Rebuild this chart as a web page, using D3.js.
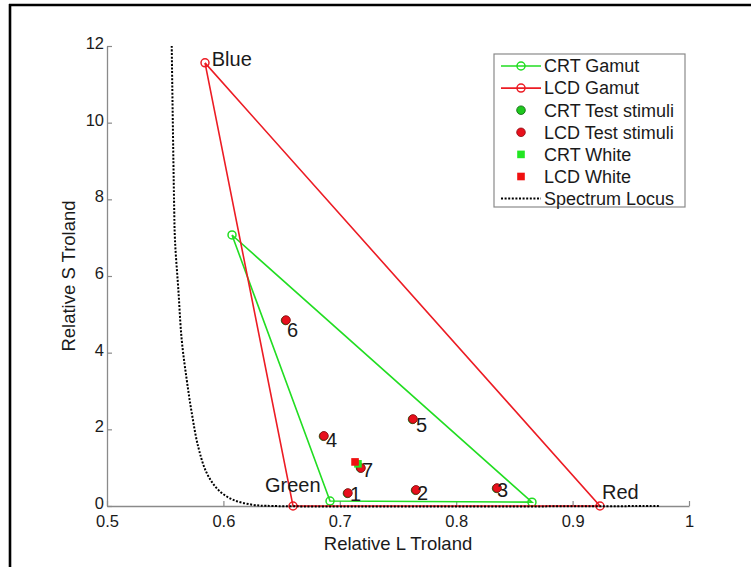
<!DOCTYPE html>
<html><head><meta charset="utf-8">
<script src="https://cdn.jsdelivr.net/npm/d3@7"></script>
<style>
body{margin:0;background:#fff}
svg{display:block}
text{font-family:"Liberation Sans",Arial,Helvetica,sans-serif;fill:#1a1a1a}
</style>
</head><body>
<svg id="chart" width="751" height="567"></svg>
<script>
// ---------- data ----------
const xTicks = [0.5, 0.6, 0.7, 0.8, 0.9, 1];
const xTickLabels = ["0.5", "0.6", "0.7", "0.8", "0.9", "1"];
const yTicks = [0, 2, 4, 6, 8, 10, 12];
const yTickLabels = ["0", "2", "4", "6", "8", "10", "12"];

const primaries = ["Blue", "Green", "Red"];
const crtGamutL = [0.6074, 0.6916, 0.8651];
const crtGamutS = [7.07, 0.13, 0.10];
const lcdGamutL = [0.5842, 0.6598, 0.9235];
const lcdGamutS = [11.56, 0.0, 0.0];
const primaryLabelL = [0.590, 0.6357, 0.9253];
const primaryLabelS = [11.47, 0.37, 0.18];

const stimulusIds = ["1", "2", "3", "4", "5", "6", "7"];
const crtStimL = [0.7066, 0.7651, 0.8347, 0.6860, 0.7625, 0.6534, 0.7178];
const crtStimS = [0.33, 0.41, 0.46, 1.82, 2.26, 4.84, 0.99];
const lcdStimL = [0.7070, 0.7655, 0.8351, 0.6864, 0.7629, 0.6538, 0.7182];
const lcdStimS = [0.34, 0.42, 0.47, 1.83, 2.27, 4.85, 0.99];
const stimLabelL = [0.7088, 0.7663, 0.8351, 0.6881, 0.7655, 0.6546, 0.7191];
const stimLabelS = [0.33, 0.34, 0.42, 1.74, 2.11, 4.59, 0.94];

const crtWhiteL = [0.7156];
const crtWhiteS = [1.10];
const lcdWhiteL = [0.7131];
const lcdWhiteS = [1.15];

const locusL = [0.5556, 0.5576, 0.5584, 0.5613, 0.5642, 0.5685, 0.5728, 0.5784, 0.5857, 0.5956, 0.6085, 0.6257, 0.6426, 0.975];
const locusS = [12.0, 7.98, 6.94, 5.64, 4.33, 3.29, 2.43, 1.54, 0.86, 0.42, 0.16, 0.03, 0.0, 0.0];

const legendLabels = ["CRT Gamut", "LCD Gamut", "CRT Test stimuli", "LCD Test stimuli", "CRT White", "LCD White", "Spectrum Locus"];

// ---------- styles ----------
const GREEN = "#22dd22", RED = "#ec1c24", AXIS = "#8a8a8a";

const svg = d3.select("#chart");

// outer frame (top & left edges visible)
svg.append("line").attr("x1", 9).attr("x2", 751).attr("y1", 5).attr("y2", 5)
  .attr("stroke", "#000").attr("stroke-width", 2.6);
svg.append("line").attr("x1", 10).attr("x2", 10).attr("y1", 4).attr("y2", 567)
  .attr("stroke", "#000").attr("stroke-width", 2.6);

const x = d3.scaleLinear().domain([0.5, 1]).range([107, 689]);
const y = d3.scaleLinear().domain([0, 12]).range([506, 46]);

// axes
const xAxis = svg.append("g").attr("transform", `translate(0,${y(0)})`)
  .call(d3.axisBottom(x).tickValues(xTicks).tickFormat((d, i) => xTickLabels[i])
    .tickSizeInner(-5).tickSizeOuter(0).tickPadding(9));
const yAxis = svg.append("g").attr("transform", `translate(${x(0.5)},0)`)
  .call(d3.axisLeft(y).tickValues(yTicks).tickFormat((d, i) => yTickLabels[i])
    .tickSizeInner(-5).tickSizeOuter(0).tickPadding(3));
[xAxis, yAxis].forEach(g => {
  g.select(".domain").attr("stroke", AXIS).attr("stroke-width", 1.3);
  g.selectAll(".tick line").attr("stroke", AXIS).attr("stroke-width", 1.2);
  g.selectAll(".tick text").attr("font-size", 16.5).style("fill", "#1a1a1a")
    .attr("font-family", '"Liberation Sans",Arial,sans-serif');
});
yAxis.selectAll(".tick text").attr("dy", "0.15em");

// axis titles
svg.append("text").attr("x", (x(0.5) + x(1)) / 2).attr("y", 550)
  .attr("text-anchor", "middle").attr("font-size", 18.5).text("Relative L Troland");
svg.append("text").attr("transform", `translate(75,${(y(0) + y(12)) / 2}) rotate(-90)`)
  .attr("text-anchor", "middle").attr("font-size", 18.5).text("Relative S Troland");

const line = d3.line().x(d => x(d[0])).y(d => y(d[1]));
const zip = (a, b) => a.map((v, i) => [v, b[i]]);

function gamut(L, S, color) {
  const pts = zip(L, S);
  svg.append("path").attr("d", line(pts.concat([pts[0]])))
    .attr("fill", "none").attr("stroke", color).attr("stroke-width", 1.6);
  svg.selectAll(null).data(pts).join("circle")
    .attr("cx", d => x(d[0])).attr("cy", d => y(d[1])).attr("r", 4)
    .attr("fill", "none").attr("stroke", color).attr("stroke-width", 1.5);
}
gamut(crtGamutL, crtGamutS, GREEN);
gamut(lcdGamutL, lcdGamutS, RED);

function dots(L, S, fill, edge) {
  svg.selectAll(null).data(zip(L, S)).join("circle")
    .attr("cx", d => x(d[0])).attr("cy", d => y(d[1])).attr("r", 4.3)
    .attr("fill", fill).attr("stroke", edge).attr("stroke-width", 0.8);
}
dots(crtStimL, crtStimS, "#1ec81e", "#0b5e0b");
dots(lcdStimL, lcdStimS, "#e8101c", "#8a0a10");

function squares(L, S, fill) {
  svg.selectAll(null).data(zip(L, S)).join("rect")
    .attr("x", d => x(d[0]) - 3.8).attr("y", d => y(d[1]) - 3.8)
    .attr("width", 7.6).attr("height", 7.6).attr("fill", fill);
}
squares(crtWhiteL, crtWhiteS, "#22e622");
squares(lcdWhiteL, lcdWhiteS, "#f01010");

// spectrum locus
svg.append("path").attr("d", d3.line().x(d => x(d[0])).y(d => y(d[1]))
    .curve(d3.curveCatmullRom)(zip(locusL, locusS)))
  .attr("fill", "none").attr("stroke", "#000").attr("stroke-width", 2)
  .attr("stroke-dasharray", "2,1.6");

// stimulus number labels
svg.selectAll(null).data(stimulusIds).join("text")
  .attr("x", (d, i) => x(stimLabelL[i])).attr("y", (d, i) => y(stimLabelS[i]))
  .attr("dy", "0.36em").attr("font-size", 20).text(d => d);

// primary labels
svg.selectAll(null).data(primaries).join("text")
  .attr("x", (d, i) => x(primaryLabelL[i])).attr("y", (d, i) => y(primaryLabelS[i]))
  .attr("font-size", 20).text(d => d);

// legend
const lg = svg.append("g");
lg.append("rect").attr("x", 494).attr("y", 54).attr("width", 191).attr("height", 153)
  .attr("fill", "#fff").attr("stroke", "#8a8a8a").attr("stroke-width", 1.2);
const rowY = i => 66 + i * 22.1;
legendLabels.forEach((lab, i) => {
  const cy = rowY(i);
  if (i === 0 || i === 1) {
    const c = i === 0 ? GREEN : RED;
    lg.append("line").attr("x1", 501).attr("x2", 541).attr("y1", cy).attr("y2", cy)
      .attr("stroke", c).attr("stroke-width", 1.6);
    lg.append("circle").attr("cx", 521).attr("cy", cy).attr("r", 4)
      .attr("fill", "none").attr("stroke", c).attr("stroke-width", 1.5);
  } else if (i === 2 || i === 3) {
    lg.append("circle").attr("cx", 521).attr("cy", cy).attr("r", 4.3)
      .attr("fill", i === 2 ? "#1ec81e" : "#e8101c")
      .attr("stroke", i === 2 ? "#0b5e0b" : "#8a0a10").attr("stroke-width", 0.8);
  } else if (i === 4 || i === 5) {
    lg.append("rect").attr("x", 517.2).attr("y", cy - 3.8).attr("width", 7.6).attr("height", 7.6)
      .attr("fill", i === 4 ? "#22e622" : "#f01010");
  } else {
    lg.append("line").attr("x1", 501).attr("x2", 541).attr("y1", cy).attr("y2", cy)
      .attr("stroke", "#000").attr("stroke-width", 2).attr("stroke-dasharray", "2,1.6");
  }
  lg.append("text").attr("x", 544).attr("y", cy).attr("dy", "0.35em")
    .attr("font-size", 18).text(lab);
});
</script>
</body></html>
